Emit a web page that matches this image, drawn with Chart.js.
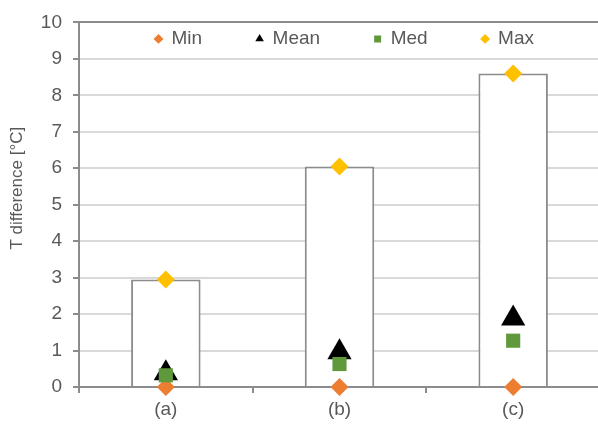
<!DOCTYPE html>
<html>
<head>
<meta charset="utf-8">
<script src="https://cdn.jsdelivr.net/npm/chart.js@4/dist/chart.umd.min.js"></script>
<style>
    html, body { margin: 0; padding: 0; background: #ffffff; overflow: hidden; }
    #wrap { width: 614px; height: 425px; }
</style>
</head>
<body>
<div id="wrap"><canvas id="tempChart" width="614" height="425"></canvas></div>
<script>
const categories = ['(a)', '(b)', '(c)'];
const minValues = [0, 0, 0];
const meanValues = [0.38, 0.95, 1.88];
const medValues = [0.32, 0.63, 1.27];
const maxValues = [2.95, 6.05, 8.6];
const barValues = [2.95, 6.05, 8.6];

const axisGrey = '#8c8c8c';
const gridGrey = '#d9d9d9';
const textGrey = '#595959';
const fontFamily = '"Liberation Sans", Arial, sans-serif';

// legend takes no room of its own and is drawn inside the plot, under the top line
const legendInPlot = {
    id: 'legendInPlot',
    beforeLayout(chart) {
        let legend = chart.legend;
        if (legend && !legend._flat) {
            let fit = legend.fit;
            legend.fit = function() {
                fit.call(this);
                this._fullHeight = this.height;
                this.height = 0;
            };
            legend._flat = true;
        }
    },
    beforeDraw(chart) {
        let legend = chart.legend;
        let area = chart.chartArea;
        legend.left = area.left + 10;
        legend.right = area.right;
        legend.top = area.top + 7 - legend.options.labels.padding;
        legend.bottom = legend.top + legend._fullHeight;
    }
};

function markerSeries(label, values, style, radius, colour, order) {
    return {
        type: 'line',
        label: label,
        data: values,
        showLine: false,
        pointStyle: style,
        pointRadius: radius,
        pointHoverRadius: radius,
        pointBackgroundColor: colour,
        pointBorderColor: colour,
        pointBorderWidth: 0,
        backgroundColor: colour,
        borderColor: colour,
        borderWidth: 0,
        clip: false,
        order: order
    };
}

const ctx = document.getElementById('tempChart').getContext('2d');
window.chart = new Chart(ctx, {
    type: 'bar',
    data: {
        labels: categories,
        datasets: [
            {
                type: 'bar',
                label: '',
                data: barValues,
                backgroundColor: '#ffffff',
                borderColor: axisGrey,
                borderWidth: 2,
                barPercentage: 0.4,
                categoryPercentage: 1,
                order: 5
            },
            markerSeries('Min', minValues, 'rectRot', 9, '#ED7D31', 4),
            markerSeries('Mean', meanValues, 'triangle', 14, '#000000', 3),
            markerSeries('Med', medValues, 'rect', 10, '#60993B', 2),
            markerSeries('Max', maxValues, 'rectRot', 9, '#FFC000', 1)
        ]
    },
    options: {
        responsive: false,
        animation: false,
        events: [],
        layout: { padding: { top: 19, right: 0, bottom: 0, left: 0 } },
        scales: {
            x: {
                offset: true,
                grid: {
                    offset: true,
                    drawOnChartArea: false,
                    drawTicks: true,
                    tickLength: 6,
                    color: axisGrey,
                    lineWidth: 2
                },
                border: { color: axisGrey, width: 2 },
                ticks: {
                    color: textGrey,
                    padding: 5,
                    font: { family: fontFamily, size: 19 }
                },
                afterFit(scale) {
                    scale.height = 38;
                    scale.paddingLeft = 0;
                    scale.paddingRight = 0;
                }
            },
            y: {
                min: 0,
                max: 10,
                ticks: {
                    stepSize: 1,
                    color: textGrey,
                    padding: 11,
                    font: { family: fontFamily, size: 19 }
                },
                grid: {
                    color: (c) => c.tick && c.tick.value === 10 ? axisGrey : gridGrey,
                    tickColor: axisGrey,
                    tickLength: 6,
                    lineWidth: 2
                },
                border: { color: axisGrey, width: 2 },
                title: {
                    display: true,
                    // leading spaces lift the visible title a little above the middle
                    text: '       T difference [°C]',
                    color: textGrey,
                    padding: { top: 7, bottom: 4 },
                    font: { family: fontFamily, size: 17 }
                },
                afterFit(scale) { scale.width = 79; }
            }
        },
        plugins: {
            tooltip: { enabled: false },
            legend: {
                position: 'top',
                align: 'center',
                labels: {
                    usePointStyle: true,
                    boxWidth: 7,
                    boxHeight: 7,
                    padding: 54,
                    color: textGrey,
                    font: { family: fontFamily, size: 19 },
                    filter: (item) => item.text !== '',
                    sort: (a, b) => a.datasetIndex - b.datasetIndex
                }
            }
        }
    },
    plugins: [legendInPlot]
});
</script>
</body>
</html>
